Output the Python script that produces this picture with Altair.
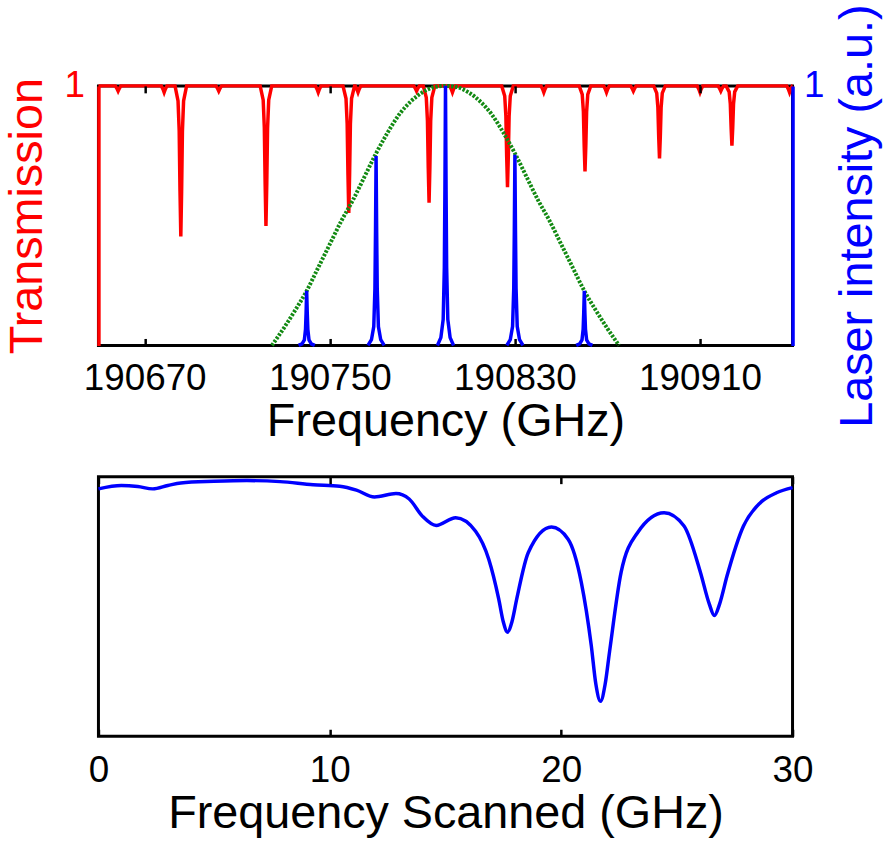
import altair as alt
import pandas as pd

FONT = "Liberation Sans"
RED = "#ff0000"
BLUE = "#0000ff"
GREEN = "#138a13"

# ---------------- top panel: cavity transmission (red) ----------------
x_top_domain = [190650, 190950]
x_top_ticks = [190670, 190750, 190830, 190910]

big_dip_freq = [190685.6, 190722.4, 190758.2, 190792.9, 190826.8, 190860.3, 190892.5, 190923.8]
big_dip_min = [0.42, 0.46, 0.51, 0.55, 0.61, 0.67, 0.72, 0.77]
small_dip_freq = [190658.5, 190678.4, 190702.0, 190745.0, 190762.2, 190787.5, 190803.0,
                  190842.5, 190869.6, 190881.2, 190910.0, 190919.0, 190948.7]
small_dip_min = [0.98, 0.975, 0.98, 0.975, 0.975, 0.98, 0.975,
                 0.975, 0.975, 0.98, 0.975, 0.98, 0.975]
# dip profile (offset in GHz, fraction of full depth)
big_dip_offset = [-2.5, -1.2, -0.7, -0.35, 0.0, 0.35, 0.7, 1.2, 2.5]
big_dip_shape = [0.0, 0.1, 0.3, 0.7, 1.0, 0.7, 0.3, 0.1, 0.0]
small_dip_offset = [-1.2, -0.5, 0.0, 0.5, 1.2]
small_dip_shape = [0.0, 0.5, 1.0, 0.5, 0.0]

# ---------------- top panel: laser comb (blue) ----------------
laser_freq = [190740, 190770, 190800, 190830, 190860]
laser_peak = [0.21, 0.73, 1.0, 0.735, 0.21]
peak_offset = [-3.5, -2.0, -1.0, -0.5, -0.25, 0.0, 0.25, 0.5, 1.0, 2.0, 3.5]
peak_shape = [0.0, 0.03, 0.1, 0.3, 0.6, 1.0, 0.6, 0.3, 0.1, 0.03, 0.0]

# ---------------- top panel: envelope (green dotted) ----------------
env_freq = [190725, 190730, 190735, 190740, 190745, 190750, 190755, 190760, 190765, 190770,
            190775, 190780, 190785, 190790, 190795, 190800, 190805, 190810, 190815, 190820,
            190825, 190830, 190835, 190840, 190845, 190850, 190855, 190860, 190865, 190870, 190875]
env_val = [0.0, 0.065, 0.135, 0.21, 0.30, 0.39, 0.48, 0.56, 0.65, 0.74,
           0.82, 0.89, 0.94, 0.975, 0.995, 1.0, 0.995, 0.975, 0.94, 0.89,
           0.82, 0.74, 0.65, 0.56, 0.48, 0.39, 0.30, 0.21, 0.135, 0.065, 0.0]

# ---------------- bottom panel ----------------
scan_freq = [0.0, 0.99, 1.7, 2.35, 3.0, 3.56, 4.99, 6.42, 7.85, 9.28, 10.43, 11.15, 11.93, 12.86,
             13.43, 14.0, 14.6, 15.44, 16.3, 16.87, 17.3, 17.5, 17.68, 17.87, 18.08, 18.58, 19.58,
             20.3, 20.87, 21.3, 21.5, 21.7, 21.9, 22.09, 22.59, 23.3, 24.45, 25.31, 26.02, 26.4,
             26.62, 26.85, 27.17, 27.88, 28.6, 29.31, 30.0]
scan_trans = [0.953, 0.966, 0.962, 0.953, 0.966, 0.976, 0.982, 0.985, 0.981, 0.969, 0.963, 0.948,
              0.922, 0.935, 0.914, 0.848, 0.812, 0.842, 0.79, 0.682, 0.529, 0.44, 0.401, 0.44,
              0.529, 0.708, 0.806, 0.759, 0.593, 0.35, 0.2, 0.135, 0.2, 0.325, 0.631, 0.784, 0.861,
              0.81, 0.631, 0.51, 0.465, 0.51, 0.618, 0.81, 0.899, 0.938, 0.958]

# ---------- build tables ----------
red_pts = [(x_top_domain[0], 1.0), (x_top_domain[1], 1.0)]
for c, m in zip(big_dip_freq, big_dip_min):
    for o, s in zip(big_dip_offset, big_dip_shape):
        red_pts.append((c + o, 1.0 - (1.0 - m) * s))
for c, m in zip(small_dip_freq, small_dip_min):
    for o, s in zip(small_dip_offset, small_dip_shape):
        red_pts.append((c + o, 1.0 - (1.0 - m) * s))
red_pts.sort()
red_df = pd.DataFrame(red_pts, columns=["f", "t"])

laser_rows = []
for i, (c, h) in enumerate(zip(laser_freq, laser_peak)):
    for o, s in zip(peak_offset, peak_shape):
        laser_rows.append({"f": c + o, "v": h * s, "k": i})
laser_df = pd.DataFrame(laser_rows)

env_df = pd.DataFrame({"f": env_freq, "v": env_val})
scan_df = pd.DataFrame({"f": scan_freq, "t": scan_trans})

W, H = 698, 261
LBL = 37
TTL = 47

x_top_scale = alt.Scale(domain=x_top_domain, nice=False, zero=False)


def yscale():
    return alt.Scale(domain=[0, 1], nice=False)


def tick_axis(orient, values, **kw):
    base = dict(orient=orient, values=values, offset=-7, tickSize=7, tickWidth=2.5,
                tickColor="black", domain=False, grid=False, zindex=1, labelFlush=False,
                labelOverlap=False)
    base.update(kw)
    return alt.Axis(**base)


red = alt.Chart(red_df).mark_line(color=RED, strokeWidth=3.5).encode(
    x=alt.X("f:Q", scale=x_top_scale,
            axis=tick_axis("bottom", x_top_ticks, format="d", labelFontSize=LBL,
                           labelPadding=15, labelColor="black", title="Frequency (GHz)",
                           titleFontSize=TTL, titleFontWeight="normal", titlePadding=3,
                           titleColor="black")),
    y=alt.Y("t:Q", scale=yscale(),
            axis=alt.Axis(values=[1], ticks=False, domainColor=RED, domainWidth=3.5, zindex=1,
                          labelColor=RED, labelFontSize=LBL, labelPadding=14, grid=False,
                          title="Transmission", titleColor=RED, titleFontSize=TTL,
                          titleFontWeight="normal", titlePadding=13)),
)

env = alt.Chart(env_df).mark_line(color=GREEN, strokeWidth=4, strokeDash=[2.5, 1.5],
                                  interpolate="monotone").encode(
    x=alt.X("f:Q", scale=x_top_scale, axis=tick_axis("top", x_top_ticks, labels=False, title=None)),
    y=alt.Y("v:Q", scale=yscale(), axis=None),
)

laser = alt.Chart(laser_df).mark_line(color=BLUE, strokeWidth=3.5).encode(
    x=alt.X("f:Q", scale=x_top_scale, axis=None),
    y=alt.Y("v:Q", scale=yscale(),
            axis=alt.Axis(orient="right", values=[1], ticks=False, domainColor=BLUE,
                          domainWidth=3.5, zindex=1, labelColor=BLUE, labelFontSize=LBL,
                          labelPadding=11, grid=False, title="Laser intensity (a.u.)",
                          titleColor=BLUE, titleFontSize=TTL, titleFontWeight="normal",
                          titleAngle=270, titleBaseline="top", titlePadding=11)),
    detail="k:N",
)

top = alt.layer(red, env, laser).resolve_scale(y="independent").resolve_axis(
    x="independent").properties(width=W, height=H)

x_bot_scale = alt.Scale(domain=[0, 30], nice=False)

scan = alt.Chart(scan_df).mark_line(color=BLUE, strokeWidth=3.5, interpolate="monotone").encode(
    x=alt.X("f:Q", scale=x_bot_scale,
            axis=tick_axis("bottom", [0, 10, 20, 30], labelFontSize=LBL, labelPadding=17,
                           labelColor="black", title="Frequency Scanned (GHz)",
                           titleFontSize=TTL, titleFontWeight="normal", titlePadding=2,
                           titleColor="black")),
    y=alt.Y("t:Q", scale=yscale(),
            axis=alt.Axis(values=[1], ticks=False, domain=False, labelColor="black",
                          labelFontSize=LBL, labelPadding=14, grid=False, title="Transmission",
                          titleColor="black", titleFontSize=TTL, titleFontWeight="normal",
                          titlePadding=13)),
)
scan_top = alt.Chart(scan_df).mark_line(strokeOpacity=0).encode(
    x=alt.X("f:Q", scale=x_bot_scale, axis=tick_axis("top", [0, 10, 20, 30], labels=False, title=None)),
    y=alt.Y("t:Q", scale=yscale(), axis=None),
)
bottom = alt.layer(scan, scan_top).resolve_axis(x="independent").properties(width=W, height=H)

chart = alt.vconcat(top, bottom, spacing=25).properties(
    padding={"left": 1, "top": 0, "right": 5, "bottom": 0},
    background="white",
).configure_view(stroke="black", strokeWidth=3).configure_axis(
    labelFont=FONT, titleFont=FONT
)

chart.save("out.html", embed_options={"renderer": "svg", "actions": False})
